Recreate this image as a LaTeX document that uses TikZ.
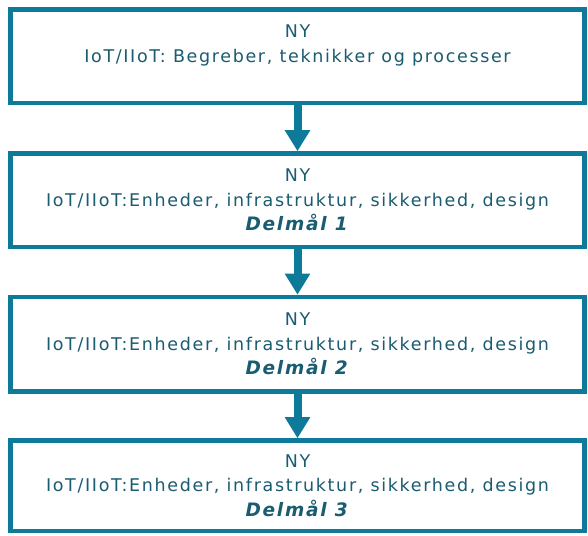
\documentclass[tikz,border=0pt]{standalone}
\usepackage{fontspec}
\setmainfont[LetterSpace=9.5]{DejaVu Sans}
\usepackage{xcolor}
\usetikzlibrary{positioning,arrows.meta,shadows}
\definecolor{boxteal}{RGB}{12,122,152}
\definecolor{textteal}{RGB}{26,92,112}
\tikzset{
  stagebox/.style={draw=boxteal, line width=4.5pt, fill=white,
    minimum width=574pt, minimum height=93.5pt, inner sep=0pt,
    align=center, text=textteal, font=\fontsize{17.5}{24.5}\selectfont,
    drop shadow={opacity=0.25, shadow xshift=1.2pt, shadow yshift=-1.2pt}},
  flowarrow/.style={draw=boxteal, line width=8pt,
    -{Triangle[width=24pt,length=21pt]}}
}
\newcommand{\delmaal}[1]{{\fontsize{18.5}{24.5}\selectfont\textbf{\textit{Delmål #1}}}}

\begin{document}
\begin{tikzpicture}[x=1pt,y=1pt]
\useasboundingbox (0,0) rectangle (588,535);
\node[stagebox] (stage0) at (297.5,478.75)
  {NY\\IoT/IIoT: Begreber, teknikker og processer\\\phantom{\delmaal{0}}};
\node[stagebox] (stage1) at (297.5,334.75)
  {NY\\IoT/IIoT:Enheder, infrastruktur, sikkerhed, design\\\delmaal{1}};
\node[stagebox, minimum height=94.5pt] (stage2) at (297.5,190.75)
  {NY\\IoT/IIoT:Enheder, infrastruktur, sikkerhed, design\\\delmaal{2}};
\node[stagebox, minimum height=90.5pt] (stage3) at (297.5,49.25)
  {NY\\IoT/IIoT:Enheder, infrastruktur, sikkerhed, design\\\delmaal{3}};
% arrows between the stages
\foreach \a/\b in {stage0/stage1,stage1/stage2,stage2/stage3}
  \draw[flowarrow] (\a.south) -- (\b.north);
\end{tikzpicture}
\end{document}
